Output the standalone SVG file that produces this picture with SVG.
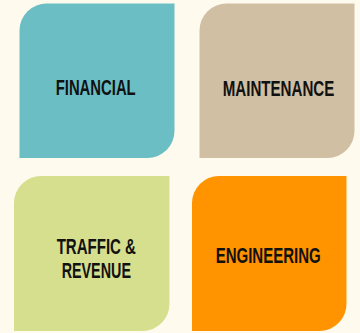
<svg xmlns="http://www.w3.org/2000/svg" width="360" height="333" viewBox="0 0 360 333">
<style>
.lbl{font-family:"Liberation Sans Narrow","Liberation Sans",Arial,sans-serif;font-size:22.5px;font-weight:bold;fill:#111;text-anchor:middle}
</style>
<rect width="360" height="333" fill="#FEFAEE"/>
<g id="financial">
<path d="M47,3.5 H174.5 V131 A27,27 0 0 1 147.5,158 H19.5 V30.5 A27,27 0 0 1 47,3.5 Z" fill="#6BBEC4"/>
<text class="lbl" x="95.7" y="95" textLength="80" lengthAdjust="spacingAndGlyphs">FINANCIAL</text>
</g>
<g id="maintenance">
<path d="M227,3.5 H354.5 V131 A27,27 0 0 1 327.5,158 H199.5 V30.5 A27,27 0 0 1 227,3.5 Z" fill="#D0BFA3"/>
<text class="lbl" x="278.5" y="95.6" textLength="111.5" lengthAdjust="spacingAndGlyphs">MAINTENANCE</text>
</g>
<g id="traffic">
<path d="M41,176 H169.5 V304 A27,27 0 0 1 142.5,331 H14 V203 A27,27 0 0 1 41,176 Z" fill="#D5DF8D"/>
<text class="lbl" x="96.3" y="254" textLength="79.3" lengthAdjust="spacingAndGlyphs">TRAFFIC &amp;</text>
<text class="lbl" x="96.3" y="277.7" textLength="69.3" lengthAdjust="spacingAndGlyphs">REVENUE</text>
</g>
<g id="engineering">
<path d="M219,176 H346.5 V304 A27,27 0 0 1 319.5,331 H192 V203 A27,27 0 0 1 219,176 Z" fill="#FF9300"/>
<text class="lbl" x="268.2" y="263.3" textLength="105" lengthAdjust="spacingAndGlyphs">ENGINEERING</text>
</g>
<g id="connectors"/>
</svg>
